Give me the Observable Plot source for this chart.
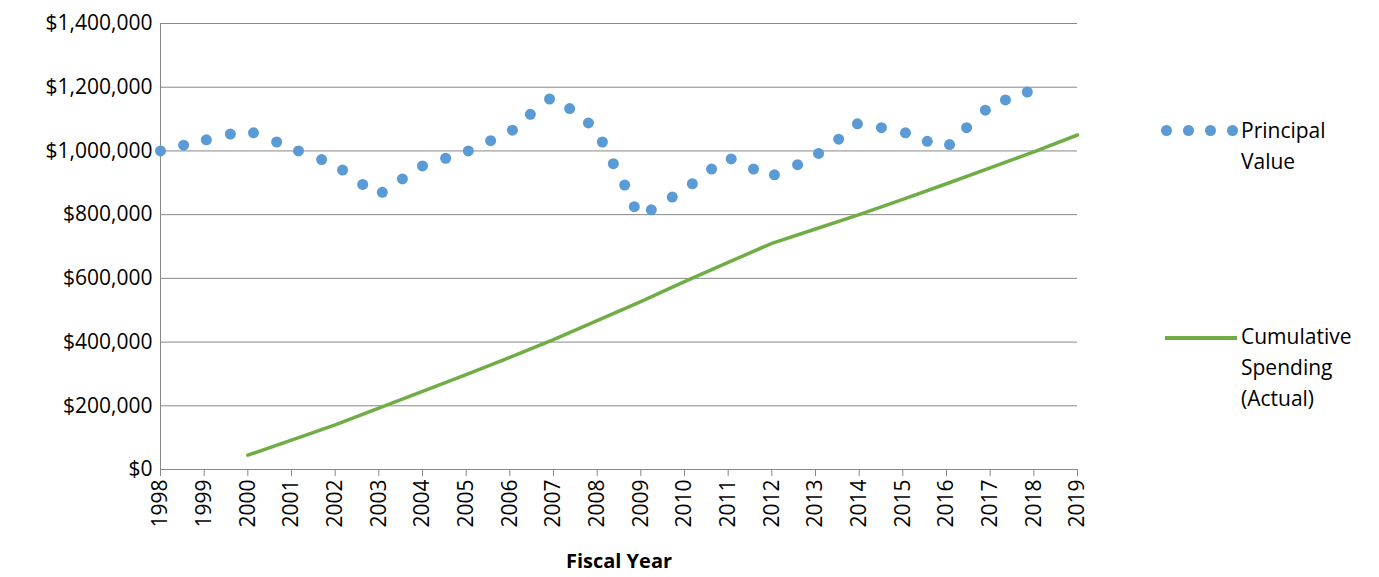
<!DOCTYPE html>
<html><head><meta charset="utf-8">
<script src="https://cdn.jsdelivr.net/npm/d3@7"></script>
<script src="https://cdn.jsdelivr.net/npm/@observablehq/plot@0.6"></script>
<style>
body{margin:0;background:#fff;font-family:"Open Sans",sans-serif;}
#wrap{position:relative;width:1379px;height:577px;}
.lg{position:absolute;font-size:21px;color:#000;line-height:31px;}
.dt{position:absolute;width:11px;height:11px;border-radius:50%;background:#5b9bd5;}
</style></head><body>
<div id="wrap"></div>
<script>
// Principal value (dots), fractional fiscal years
const principalYears = [1998.00,1998.53,1999.05,1999.60,2000.13,2000.66,2001.16,2001.69,2002.17,2002.63,2003.08,2003.54,2004.00,2004.53,2005.05,2005.56,2006.06,2006.47,2006.91,2007.37,2007.80,2008.12,2008.37,2008.63,2008.85,2009.24,2009.72,2010.18,2010.62,2011.07,2011.58,2012.06,2012.59,2013.07,2013.53,2013.96,2014.51,2015.06,2015.56,2016.07,2016.46,2016.89,2017.35,2017.85];
const principalValues = [1000000,1018000,1035000,1053000,1057000,1028000,1000000,973000,940000,895000,870000,912000,953000,977000,1000000,1032000,1065000,1115000,1163000,1133000,1088000,1028000,960000,893000,825000,815000,855000,897000,943000,975000,943000,925000,957000,992000,1037000,1085000,1073000,1057000,1030000,1020000,1073000,1128000,1160000,1185000];
// Cumulative spending (line)
const spendYears = [2000,2001,2002,2003,2004,2005,2006,2007,2008,2009,2010,2011,2012,2013,2014,2015,2016,2017,2018,2019];
const spendValues = [45000,92000,140000,193000,245000,298000,352000,408000,467000,527000,590000,650000,710000,755000,800000,848000,897000,947000,997000,1050000];
const yearTicks = d3.range(1998, 2020);
const yTicks = d3.range(0, 1400001, 200000);

const principal = principalYears.map((x, i) => ({x, y: principalValues[i]}));
const spend = spendYears.map((x, i) => ({x, y: spendValues[i]}));

const chart = Plot.plot({
  width: 1379, height: 577,
  marginLeft: 160, marginRight: 302, marginTop: 23, marginBottom: 108,
  style: {fontFamily: "'Open Sans',sans-serif", fontSize: "21px", color: "#000", background: "#fff"},
  x: {domain: [1998, 2019]},
  y: {domain: [0, 1400000]},
  marks: [
    Plot.gridY(yTicks, {stroke: "#888", strokeOpacity: 1, strokeWidth: 1}),
    Plot.ruleX([1998], {stroke: "#888"}),
    Plot.ruleY([0], {stroke: "#888"}),
    Plot.axisY(yTicks, {tickSize: 0, tickPadding: 8, label: null, tickFormat: d => "$" + d3.format(",")(d)}),
    Plot.axisX(yearTicks, {tickSize: 7, tickRotate: -90, tickPadding: 3, stroke: "#888", label: null, tickFormat: d => String(d)}),
    Plot.text(["Fiscal Year"], {frameAnchor: "bottom", dy: 98, text: d => d, fontWeight: "bold", fontSize: 20}),
    Plot.line(spend, {x: "x", y: "y", stroke: "#70ad47", strokeWidth: 3.5}),
    Plot.dot(principal, {x: "x", y: "y", r: 5.5, fill: "#5b9bd5"})
  ]
});
const wrap = document.getElementById("wrap");
wrap.appendChild(chart);

[1161, 1183, 1205, 1227].forEach(x => {
  const d = document.createElement("div");
  d.className = "dt"; d.style.left = x + "px"; d.style.top = "125px";
  wrap.appendChild(d);
});
const t1 = document.createElement("div");
t1.className = "lg"; t1.style.left = "1241px"; t1.style.top = "115px";
t1.innerHTML = "Principal<br>Value";
wrap.appendChild(t1);
const l2 = document.createElement("div");
l2.style.cssText = "position:absolute;left:1165px;top:336px;width:72px;height:3.5px;background:#70ad47";
wrap.appendChild(l2);
const t2 = document.createElement("div");
t2.className = "lg"; t2.style.left = "1241px"; t2.style.top = "321px";
t2.innerHTML = "Cumulative<br>Spending<br>(Actual)";
wrap.appendChild(t2);
</script>
</body></html>
